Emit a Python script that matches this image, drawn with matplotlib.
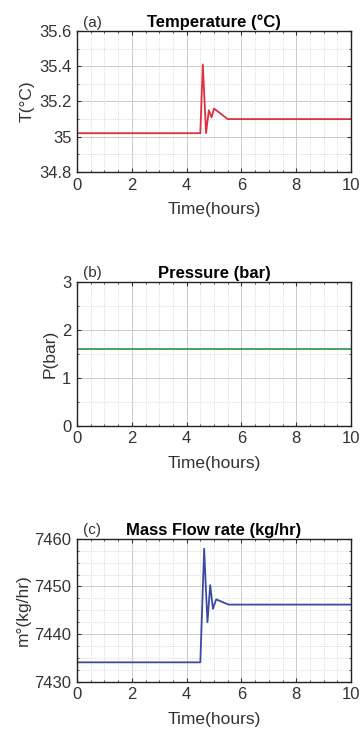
import numpy as np
import matplotlib
matplotlib.use("Agg")
import matplotlib.pyplot as plt
from matplotlib.ticker import MultipleLocator

plt.rcParams['font.family'] = ['Liberation Sans', 'DejaVu Sans']

# Temperature trace (hours, degC)
temp_t = [0, 4.5, 4.59, 4.71, 4.81, 4.91, 5.0, 5.5, 10]
temp_v = [35.02, 35.02, 35.41, 35.02, 35.15, 35.11, 35.16, 35.1, 35.1]

# Pressure trace (hours, bar)
pres_t = [0, 10]
pres_v = [1.6, 1.6]

# Mass flow trace (hours, kg/hr)
flow_t = [0, 4.5, 4.64, 4.7, 4.76, 4.86, 4.96, 5.08, 5.53, 10]
flow_v = [7434.1, 7434.1, 7457.9, 7450.0, 7442.5, 7450.3, 7445.3, 7447.3, 7446.2, 7446.2]

panels = [
    dict(t=temp_t, v=temp_v, c='#e0303c', tag='(a)', title='Temperature (\u00b0C)',
         ylabel='T(\u00b0C)', ylim=(34.8, 35.6), ymaj=0.2, ymin=0.1,
         pos=[0.214, 0.767, 0.761, 0.191], yfmt=lambda v: ('%g' % round(v, 1))),
    dict(t=pres_t, v=pres_v, c='#3a9a50', tag='(b)', title='Pressure (bar)',
         ylabel='P(bar)', ylim=(0, 3), ymaj=1, ymin=0.5,
         pos=[0.214, 0.423, 0.761, 0.195], yfmt=lambda v: '%d' % v),
    dict(t=flow_t, v=flow_v, c='#3c4aa0', tag='(c)', title='Mass Flow rate (kg/hr)',
         ylabel='m\u00b0(kg/hr)', ylim=(7430, 7460), ymaj=10, ymin=2.5,
         pos=[0.214, 0.076, 0.761, 0.194], yfmt=lambda v: '%d' % v),
]

fig = plt.figure(figsize=(3.6, 7.38), dpi=100)

for p in panels:
    ax = fig.add_axes(p['pos'])
    ax.plot(p['t'], p['v'], color=p['c'], lw=1.3)
    ax.set_xlim(0, 10)
    ax.set_ylim(*p['ylim'])
    ax.xaxis.set_major_locator(MultipleLocator(2))
    ax.xaxis.set_minor_locator(MultipleLocator(0.5))
    ax.yaxis.set_major_locator(MultipleLocator(p['ymaj']))
    ax.yaxis.set_minor_locator(MultipleLocator(p['ymin']))
    ax.set_yticks(ax.get_yticks())
    ax.set_yticklabels([p['yfmt'](v) for v in ax.get_yticks()])
    ax.set_ylim(*p['ylim'])
    ax.grid(which='major', color='#cccccc', lw=0.7, ls='-')
    ax.grid(which='minor', color='#cccccc', lw=0.6, ls=':')
    ax.tick_params(which='both', direction='in', top=True, right=True,
                   labelsize=12, colors='#333333', pad=4)
    ax.tick_params(which='major', length=3)
    ax.tick_params(which='minor', length=1.5)
    for s in ax.spines.values():
        s.set_linewidth(1.0)
        s.set_color('#222222')
    ax.set_xlabel('Time(hours)', fontsize=12.5, labelpad=7, color='#333333')
    ax.set_ylabel(p['ylabel'], fontsize=12.5, labelpad=3, color='#333333')
    ax.set_title(p['title'], fontsize=12, fontweight='bold', pad=3)
    ax.text(0.02, 1.01, p['tag'], transform=ax.transAxes, fontsize=11,
            ha='left', va='bottom', color='#333333')

fig.savefig('out.png', dpi=100)
